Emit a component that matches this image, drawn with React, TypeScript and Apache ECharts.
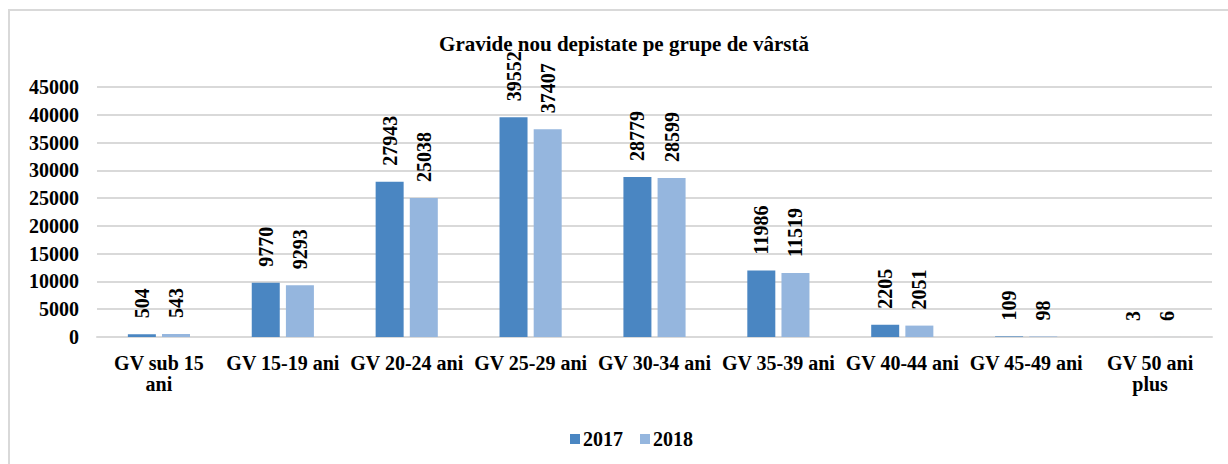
import React, { useEffect, useRef } from "react";
import * as echarts from "echarts";

const categories = [
  "GV sub 15 ani",
  "GV 15-19 ani",
  "GV 20-24 ani",
  "GV 25-29 ani",
  "GV 30-34 ani",
  "GV 35-39 ani",
  "GV 40-44 ani",
  "GV 45-49 ani",
  "GV 50 ani plus",
];
const values2017 = [504, 9770, 27943, 39552, 28779, 11986, 2205, 109, 3];
const values2018 = [543, 9293, 25038, 37407, 28599, 11519, 2051, 98, 6];
const seriesNames = ["2017", "2018"];
const titleText = "Gravide nou depistate pe grupe de vârstă";

const FONT = "'Liberation Serif', 'Times New Roman', serif";

export default function App() {
  const ref = useRef<HTMLDivElement>(null);
  useEffect(() => {
    document.body.style.margin = "0";
    if (!ref.current) return;
    const chart = echarts.init(ref.current, null, { renderer: "svg" });
    const labelStyle = {
      show: true,
      position: "top",
      rotate: 90,
      align: "left",
      verticalAlign: "middle",
      distance: 16,
      fontFamily: FONT,
      fontWeight: "bold",
      fontSize: 20,
      color: "#000",
    };
    chart.setOption({
      animation: false,
      backgroundColor: "#fff",
      graphic: [
        {
          type: "rect",
          shape: { x: 9, y: 10, width: 1400, height: 700 },
          style: { fill: "none", stroke: "#d9d9d9", lineWidth: 2 },
          silent: true,
        },
        {
          type: "text",
          x: 624,
          y: 44,
          style: {
            text: titleText,
            fontFamily: FONT,
            fontWeight: "bold",
            fontSize: 21,
            fill: "#000",
            textAlign: "center",
            textVerticalAlign: "middle",
          },
        },
      ],
      legend: {
        left: 565,
        top: 424,
        itemWidth: 10,
        itemHeight: 10,
        itemGap: 17,
        icon: "rect",
        textStyle: {
          fontFamily: FONT,
          fontWeight: "bold",
          fontSize: 20,
          color: "#000",
          padding: [0, 0, 0, -2],
        },
        data: seriesNames,
      },
      grid: { left: 97, right: 16, top: 87, bottom: 127, containLabel: false },
      xAxis: {
        type: "category",
        data: categories,
        axisLine: { show: true, lineStyle: { color: "#d9d9d9", width: 2 } },
        axisTick: { show: false },
        axisLabel: {
          interval: 0,
          margin: 15,
          fontFamily: FONT,
          fontWeight: "bold",
          fontSize: 20,
          lineHeight: 21,
          color: "#000",
          formatter: (v: string) => {
            if (v.length > 12) {
              const i = v.lastIndexOf(" ");
              return v.slice(0, i) + "\n" + v.slice(i + 1);
            }
            return v;
          },
        },
      },
      yAxis: {
        type: "value",
        min: 0,
        max: 45000,
        interval: 5000,
        axisLine: { show: false },
        axisTick: { show: false },
        splitLine: { lineStyle: { color: "#d9d9d9", width: 2 } },
        axisLabel: {
          margin: 18,
          fontFamily: FONT,
          fontWeight: "bold",
          fontSize: 20,
          color: "#000",
          formatter: (v: number) => String(v),
        },
      },
      series: [
        {
          name: seriesNames[0],
          type: "bar",
          data: values2017,
          barWidth: 28,
          barGap: "22%",
          itemStyle: { color: "#4A86C2" },
          label: labelStyle,
        },
        {
          name: seriesNames[1],
          type: "bar",
          data: values2018,
          barWidth: 28,
          barGap: "22%",
          itemStyle: { color: "#95B6DE" },
          label: labelStyle,
        },
      ],
    });
    return () => chart.dispose();
  }, []);
  return <div ref={ref} style={{ width: 1228, height: 464 }} />;
}
